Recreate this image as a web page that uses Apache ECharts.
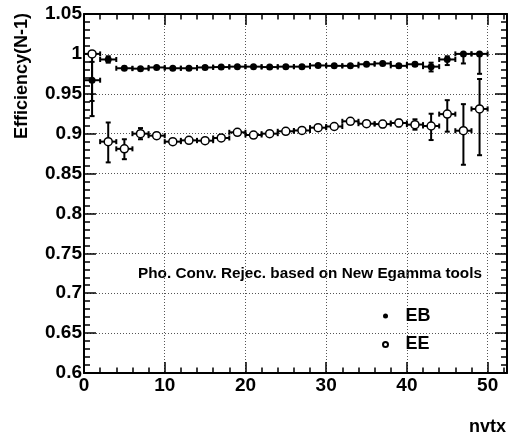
<!DOCTYPE html>
<html lang="en">
<head>
    <meta charset="UTF-8">
    <title>Efficiency vs nvtx</title>
    <style>
        html, body { margin: 0; padding: 0; background: #fff; }
        #main { width: 508px; height: 434px; }
    </style>
    <script src="https://cdn.jsdelivr.net/npm/echarts@6/dist/echarts.min.js"></script>
</head>
<body>
    <div id="main"></div>
    <script>
        // bin centres (bins are 2 wide)
        var nvtx = [1, 3, 5, 7, 9, 11, 13, 15, 17, 19, 21, 23, 25, 27, 29, 31, 33, 35, 37, 39, 41, 43, 45, 47, 49];
        var binHalf = 1;

        // EB (filled)
        var ebVal = [0.967, 0.993, 0.982, 0.9815, 0.983, 0.982, 0.982, 0.983, 0.9835, 0.984, 0.984, 0.9835, 0.984, 0.984, 0.9855, 0.985, 0.985, 0.987, 0.988, 0.985, 0.987, 0.984, 0.993, 1.000, 1.000];
        var ebLo  = [0.922, 0.989, 0.980, 0.980, 0.9815, 0.9805, 0.9805, 0.9815, 0.982, 0.9825, 0.9825, 0.982, 0.9825, 0.9825, 0.984, 0.9835, 0.9835, 0.985, 0.986, 0.983, 0.985, 0.978, 0.986, 0.988, 0.975];
        var ebHi  = [0.990, 0.997, 0.984, 0.983, 0.9845, 0.9835, 0.9835, 0.9845, 0.985, 0.9855, 0.9855, 0.985, 0.9855, 0.9855, 0.987, 0.9865, 0.9865, 0.989, 0.990, 0.987, 0.989, 0.989, 0.997, 1.000, 1.000];

        // EE (open)
        var eeVal = [1.000, 0.890, 0.881, 0.900, 0.8975, 0.890, 0.8916, 0.8912, 0.8946, 0.9017, 0.8983, 0.900, 0.903, 0.904, 0.9075, 0.909, 0.9155, 0.9125, 0.912, 0.9134, 0.9113, 0.9096, 0.9245, 0.9037, 0.931];
        var eeLo  = [0.941, 0.864, 0.868, 0.893, 0.894, 0.8875, 0.889, 0.8885, 0.892, 0.899, 0.8955, 0.897, 0.900, 0.901, 0.9045, 0.906, 0.9125, 0.9095, 0.908, 0.909, 0.905, 0.892, 0.9025, 0.861, 0.873];
        var eeHi  = [1.000, 0.914, 0.893, 0.907, 0.901, 0.8925, 0.894, 0.894, 0.897, 0.9045, 0.901, 0.903, 0.906, 0.907, 0.9105, 0.912, 0.9185, 0.9155, 0.916, 0.9175, 0.918, 0.925, 0.942, 0.937, 0.9685];

        var xMin = 0, xMax = 52.4, xStep = 10;
        var yMin = 0.6, yMax = 1.05, yStep = 0.05;

        var FONT = "'Liberation Sans', Arial, Helvetica, sans-serif";

        function pack(vals, lo, hi) {
            return nvtx.map(function (x, i) { return [x, vals[i], lo[i], hi[i]]; });
        }
        var ebData = pack(ebVal, ebLo, ebHi);
        var eeData = pack(eeVal, eeLo, eeHi);

        function renderErr(params, api) {
            var x = api.value(0), y = api.value(1);
            var l = api.coord([x - binHalf, y]);
            var r = api.coord([x + binHalf, y]);
            var lo = api.coord([x, api.value(2)]);
            var hi = api.coord([x, api.value(3)]);
            var cap = 2.5;
            var st = { stroke: '#000', lineWidth: 2 };
            var kids = [
                { type: 'line', shape: { x1: l[0], y1: l[1], x2: r[0], y2: r[1] }, style: st },
                { type: 'line', shape: { x1: l[0], y1: l[1] - cap, x2: l[0], y2: l[1] + cap }, style: st },
                { type: 'line', shape: { x1: r[0], y1: r[1] - cap, x2: r[0], y2: r[1] + cap }, style: st }
            ];
            if (Math.abs(lo[1] - hi[1]) > 1) {
                kids.push({ type: 'line', shape: { x1: lo[0], y1: lo[1], x2: hi[0], y2: hi[1] }, style: st });
                kids.push({ type: 'line', shape: { x1: lo[0] - cap, y1: lo[1], x2: lo[0] + cap, y2: lo[1] }, style: st });
                kids.push({ type: 'line', shape: { x1: hi[0] - cap, y1: hi[1], x2: hi[0] + cap, y2: hi[1] }, style: st });
            }
            return { type: 'group', children: kids };
        }

        var gridLine = { show: true, lineStyle: { color: '#555', width: 1, type: [1, 2] } };
        var frameLine = { show: true, onZero: false, lineStyle: { color: '#000', width: 2 } };
        var labelStyle = { fontFamily: FONT, fontWeight: 'bold', fontSize: 19, color: '#000' };

        var myChart = echarts.init(document.getElementById('main'));

        var option = {
            animation: false,
            grid: { left: 84, top: 14, width: 423, height: 359, containLabel: false },
            xAxis: [
                {
                    type: 'value', position: 'bottom', min: xMin, max: xMax, interval: xStep,
                    axisLine: frameLine,
                    axisTick: { show: true, inside: true, length: 11, lineStyle: { color: '#000', width: 1.5 } },
                    minorTick: { show: true, splitNumber: 5, length: 5.5, lineStyle: { color: '#000', width: 1.5 } },
                    splitLine: gridLine,
                    axisLabel: Object.assign({ margin: 3, showMaxLabel: false }, labelStyle)
                },
                {
                    type: 'value', position: 'top', min: xMin, max: xMax, interval: xStep,
                    axisLine: frameLine,
                    axisTick: { show: true, inside: true, length: 11, lineStyle: { color: '#000', width: 1.5 } },
                    minorTick: { show: true, splitNumber: 5, length: 5.5, lineStyle: { color: '#000', width: 1.5 } },
                    splitLine: { show: false },
                    axisLabel: { show: false }
                }
            ],
            yAxis: [
                {
                    type: 'value', position: 'left', min: yMin, max: yMax, interval: yStep,
                    axisLine: frameLine,
                    axisTick: { show: true, inside: true, length: 12, lineStyle: { color: '#000', width: 1.5 } },
                    minorTick: { show: true, splitNumber: 5, length: 6, lineStyle: { color: '#000', width: 1.5 } },
                    splitLine: gridLine,
                    axisLabel: Object.assign({ margin: 2 }, labelStyle)
                },
                {
                    type: 'value', position: 'right', min: yMin, max: yMax, interval: yStep,
                    axisLine: frameLine,
                    axisTick: { show: true, inside: true, length: 12, lineStyle: { color: '#000', width: 1.5 } },
                    minorTick: { show: true, splitNumber: 5, length: 6, lineStyle: { color: '#000', width: 1.5 } },
                    splitLine: { show: false },
                    axisLabel: { show: false }
                }
            ],
            legend: {
                data: ['EB', 'EE'],
                orient: 'vertical',
                left: 377, top: 302,
                itemWidth: 30, itemHeight: 5, itemGap: 10.5,
                textStyle: { fontFamily: FONT, fontWeight: 'bold', fontSize: 18, color: '#000' }
            },
            graphic: [
                {
                    type: 'text', x: 22, y: 13, rotation: Math.PI / 2,
                    style: { text: 'Efficiency(N-1)', fontFamily: FONT, fontWeight: 'bold', fontSize: 18, fill: '#000', align: 'right', verticalAlign: 'middle' }
                },
                {
                    type: 'text', x: 506, y: 427,
                    style: { text: 'nvtx', fontFamily: FONT, fontWeight: 'bold', fontSize: 18, fill: '#000', align: 'right', verticalAlign: 'middle' }
                },
                {
                    type: 'text', x: 138, y: 274,
                    style: { text: 'Pho. Conv. Rejec. based on New Egamma tools', fontFamily: FONT, fontWeight: 'bold', fontSize: 15.3, fill: '#000', align: 'left', verticalAlign: 'middle' }
                }
            ],
            series: [
                {
                    type: 'custom', renderItem: renderErr, data: eeData,
                    encode: { x: 0, y: 1 }, z: 2, clip: false
                },
                {
                    type: 'custom', renderItem: renderErr, data: ebData,
                    encode: { x: 0, y: 1 }, z: 2, clip: false
                },
                {
                    name: 'EE', type: 'scatter', data: eeData, symbol: 'circle', symbolSize: 8,
                    encode: { x: 0, y: 1 }, z: 4,
                    itemStyle: { color: '#fff', borderColor: '#000', borderWidth: 1.5, opacity: 1 }
                },
                {
                    name: 'EB', type: 'scatter', data: ebData, symbol: 'circle', symbolSize: 7,
                    encode: { x: 0, y: 1 }, z: 5,
                    itemStyle: { color: '#000', opacity: 1 }
                }
            ]
        };

        myChart.setOption(option);
    </script>
</body>
</html>
